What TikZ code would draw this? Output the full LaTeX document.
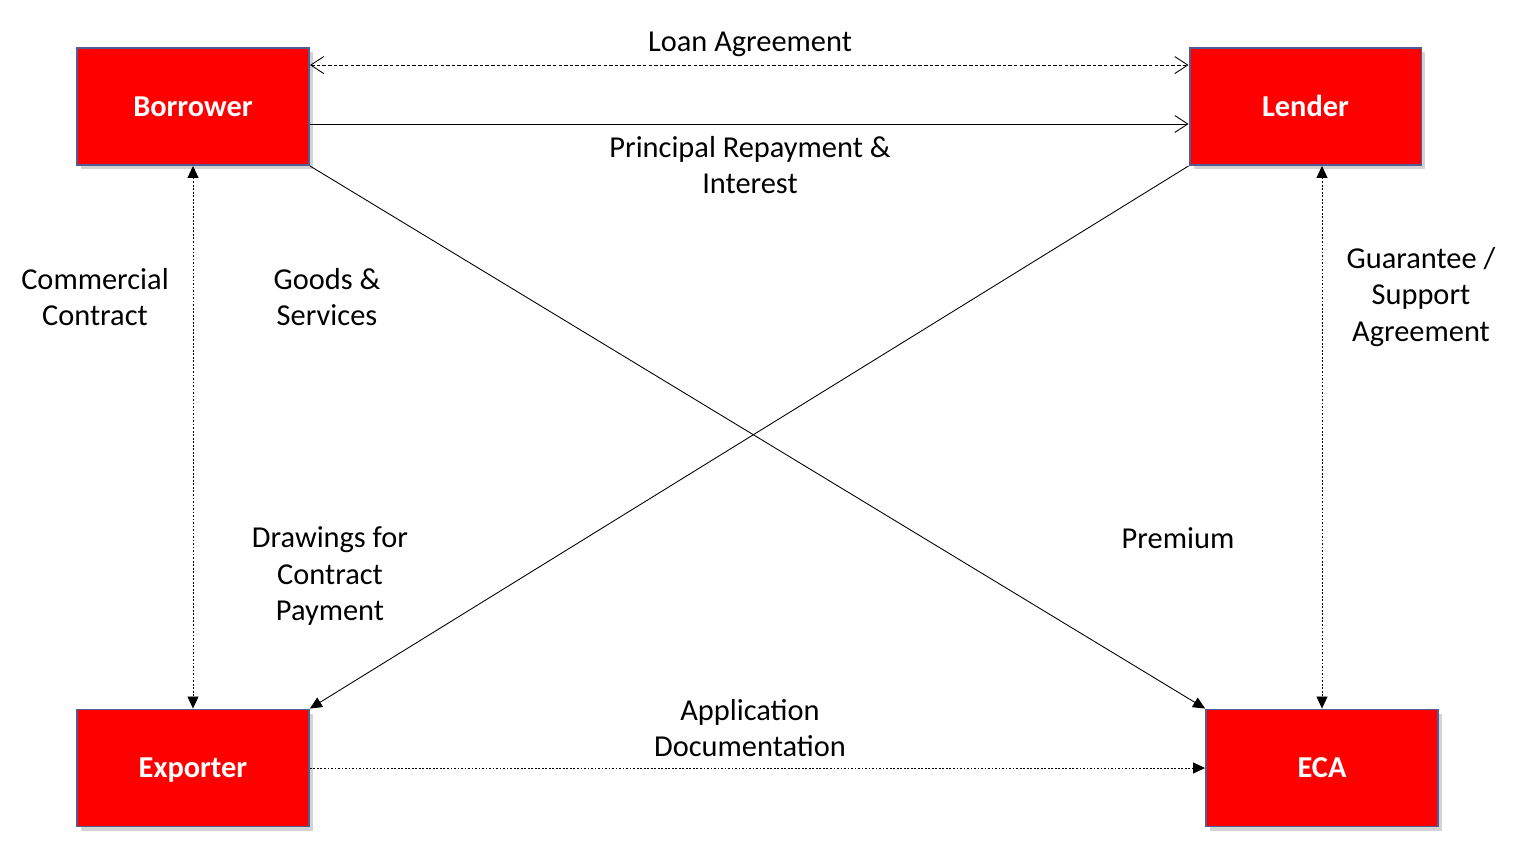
\documentclass[tikz,border=0pt]{standalone}
\usepackage{fontspec}
\setmainfont{Carlito}
\usetikzlibrary{arrows.meta,shadows}

\definecolor{boxred}{RGB}{255,0,0}
\definecolor{boxedge}{RGB}{80,92,150}

\begin{document}
\begin{tikzpicture}[
  x=0.02cm, y=-0.02cm,
  party/.style={draw=boxedge, line width=1.1pt, fill=boxred, text=white, font=\fontsize{17.3}{20}\selectfont\bfseries,
    minimum width=4.64cm, minimum height=2.34cm, inner sep=0pt, text height=11pt, text depth=0pt,
    drop shadow={shadow xshift=0.8mm, shadow yshift=-0.8mm, opacity=0.35}},
  lbl/.style={align=center, font=\fontsize{17.3}{21}\selectfont},
  link/.style={line width=0.5pt},
  openhead/.style={link, {Straight Barb[length=2.6mm,width=3.4mm]}-{Straight Barb[length=2.6mm,width=3.4mm]}},
  solidhead/.style={link, -{Straight Barb[length=2.6mm,width=3.4mm]}},
  tri/.style={link, -{Triangle[length=2.4mm,width=2.2mm]}},
  tritwo/.style={link, {Triangle[length=2.4mm,width=2.2mm]}-{Triangle[length=2.4mm,width=2.2mm]}},
  fine/.style={dash pattern=on 1pt off 1pt}
]
\useasboundingbox (0,0) rectangle (1532,863);

\node[party] (borrower) at (193,106.5) {Borrower};
\node[party] (lender) at (1305.5,106.5) {Lender};
\node[party] (exporter) at (193,768) {Exporter};
\node[party] (eca) at (1322,768) {ECA};

\node[lbl] (loan) at (750,44) {Loan Agreement};
\node[lbl] (repay) at (750,165) {Principal Repayment \&\\Interest};
\node[lbl] (contract) at (95,297) {Commercial\\Contract};
\node[lbl] (goods) at (327,297) {Goods \&\\Services};
\node[lbl] (guarantee) at (1421,297) {Guarantee /\\Support\\Agreement};
\node[lbl] (drawings) at (330,576) {Drawings for\\Contract\\Payment};
\node[lbl] (premium) at (1178,538) {Premium};
\node[lbl] (application) at (750,728) {Application\\Documentation};

\draw[openhead, dash pattern=on 2pt off 1.2pt] ([yshift=-0.36cm]borrower.north east) -- ([yshift=-0.36cm]lender.north west);
\draw[solidhead] ([yshift=0.84cm]borrower.south east) -- ([yshift=0.84cm]lender.south west);
\draw[tritwo, fine] (borrower.south) -- (exporter.north);
\draw[tritwo, fine] (eca.north |- lender.south) -- (eca.north);
\draw[tri] (borrower.south east) -- (eca.north west);
\draw[tri] (lender.south west) -- (exporter.north east);
\draw[tri, fine] (exporter.east) -- (eca.west);
\end{tikzpicture}
\end{document}
